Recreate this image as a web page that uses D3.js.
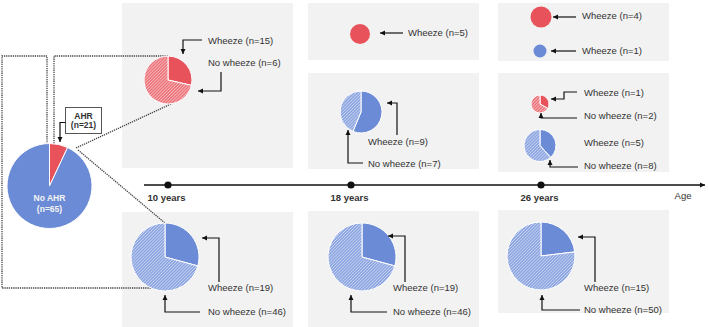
<!DOCTYPE html>
<html>
<head>
<meta charset="utf-8">
<script src="https://cdn.jsdelivr.net/npm/d3@7/dist/d3.min.js"></script>
<style>
  body { margin: 0; background: #fff; }
  text { font-family: "Liberation Sans", Arial, sans-serif; }
</style>
</head>
<body>
<div id="chart"></div>
<script>
// ---- data ----
const ages = ["10 years", "18 years", "26 years"];
const ageYears = [10, 18, 26];

const ahrLabels = ["AHR", "No AHR"];
const ahrN = [21, 65];
const ahrDrawn = [7, 93];   // share of the big pie as drawn

// one entry per small pie
const pieAge      = [10, 18, 18, 26, 26, 26, 26, 10, 18, 26];
const pieAhrNow   = [1, 1, 0, 1, 0, 1, 0, 0, 0, 0];   // 1 = AHR at that age (red)
const wheezeN     = [15, 5, 9, 4, 1, 1, 5, 19, 19, 15];
const noWheezeN   = [6, 0, 7, 0, 0, 2, 8, 46, 46, 50];
const drawnSolid  = [6, 1, 9, 1, 1, 1, 5, 19, 19, 15];
const drawnHatch  = [15, 0, 7, 0, 0, 2, 8, 46, 46, 50];

// ---- layout ----
const width = 709, height = 327;
const red = "#e8525a", blue = "#6b8bd6";
const textCol = "#333";
const fs = 9.5;

const x = d3.scaleLinear().domain(ageYears).range([168, 351, 541]);

// [dx from age column, cy, r]
const pieLayout = [
  [0, 80, 24],
  [9, 34, 10],
  [10, 112, 21],
  [0, 17, 10.5],
  [-1, 51, 6.5],
  [-1, 104, 9],
  [-1, 145.5, 16],
  [-3, 257, 34],
  [11, 257, 34],
  [0, 256, 34]
];

// panels: [age, y0, y1]
const panels = [
  [10, 3, 168], [10, 212, 327],
  [18, 3, 60], [18, 73, 169], [18, 211, 327],
  [26, 3, 61], [26, 73, 172], [26, 210, 313]
];
const panelDx = [[10, -46], [18, -43], [26, -43]];

// annotations: [age, text, text dx, text cy, arrow path (dx,y)]
const notes = [
  [10, "Wheeze (n=" + wheezeN[0] + ")", 40, 41, [[34, 40], [15, 40], [15, 54]]],
  [10, "No wheeze (n=" + noWheezeN[0] + ")", 40, 63, [[53, 72], [53, 91], [30, 91]]],
  [18, "Wheeze (n=" + wheezeN[1] + ")", 57, 33, [[52, 33], [29, 33]]],
  [18, "Wheeze (n=" + wheezeN[2] + ")", 17, 142, [[46, 135], [46, 103], [36, 103]]],
  [18, "No wheeze (n=" + noWheezeN[2] + ")", 17, 164, [[12, 163], [-3, 163], [-3, 130]]],
  [26, "Wheeze (n=" + wheezeN[3] + ")", 41, 16, [[35, 17], [12, 17]]],
  [26, "Wheeze (n=" + wheezeN[4] + ")", 41, 51, [[35, 51], [10, 51]]],
  [26, "Wheeze (n=" + wheezeN[5] + ")", 43, 93, [[36, 92], [23, 92], [23, 99], [10, 99]]],
  [26, "No wheeze (n=" + noWheezeN[5] + ")", 43, 116, [[36, 118], [0, 118], [0, 113]]],
  [26, "Wheeze (n=" + wheezeN[6] + ")", 43, 143, null],
  [26, "No wheeze (n=" + noWheezeN[6] + ")", 43, 166, [[37, 167], [9, 167], [9, 160]]],
  [10, "Wheeze (n=" + wheezeN[7] + ")", 40, 288, [[51, 282], [51, 238], [34, 238]]],
  [10, "No wheeze (n=" + noWheezeN[7] + ")", 40, 312, [[32, 312], [-3, 312], [-3, 295]]],
  [18, "Wheeze (n=" + wheezeN[8] + ")", 42, 288, [[54, 282], [54, 236], [37, 236]]],
  [18, "No wheeze (n=" + noWheezeN[8] + ")", 42, 312, [[36, 312], [0, 312], [0, 295]]],
  [26, "Wheeze (n=" + wheezeN[9] + ")", 43, 288, [[54, 282], [54, 237], [37, 237]]],
  [26, "No wheeze (n=" + noWheezeN[9] + ")", 43, 310, [[39, 310], [1, 310], [1, 295]]]
];

const svg = d3.select("#chart").append("svg")
  .attr("width", width)
  .attr("height", height);

const defs = svg.append("defs");

function addHatch(id, color) {
  const s = 2.2;
  const p = defs.append("pattern")
    .attr("id", id)
    .attr("patternUnits", "userSpaceOnUse")
    .attr("width", s)
    .attr("height", s)
    .attr("patternTransform", "rotate(45)");
  p.append("rect").attr("width", s).attr("height", s).attr("fill", color);
  p.append("line").attr("x1", 0.4).attr("y1", 0).attr("x2", 0.4).attr("y2", s)
    .attr("stroke", "#fff").attr("stroke-width", 0.8).attr("stroke-opacity", 0.55);
}
addHatch("hatch-red", "#ec7077");
addHatch("hatch-blue", "#8aa3e0");

defs.append("marker")
  .attr("id", "arrow")
  .attr("markerUnits", "userSpaceOnUse")
  .attr("markerWidth", 6)
  .attr("markerHeight", 6)
  .attr("refX", 5)
  .attr("refY", 3)
  .attr("orient", "auto")
  .append("path")
  .attr("d", "M0,0.5 L5,3 L0,5.5 z")
  .attr("fill", "#111");

// panels
svg.selectAll("rect.panel")
  .data(panels)
  .enter()
  .append("rect")
  .attr("class", "panel")
  .attr("x", d => x(d[0]) + panelDx.find(p => p[0] === d[0])[1])
  .attr("y", d => d[1])
  .attr("width", 171)
  .attr("height", d => d[2] - d[1])
  .attr("fill", "#f2f2f2");

// dotted connectors
const line = d3.line();
const dotted = [
  [[168, 56], [54, 56], [54, 144]],
  [[47, 144], [47, 56], [2, 56], [2, 288], [151, 288]],
  [[76, 148], [173, 103]],
  [[78, 150], [165, 223]]
];
svg.selectAll("path.dotted")
  .data(dotted)
  .enter()
  .append("path")
  .attr("class", "dotted")
  .attr("d", line)
  .attr("fill", "none")
  .attr("stroke", "#444")
  .attr("stroke-width", 1.3)
  .attr("stroke-dasharray", "1.3 0.9");

// timeline
svg.append("line")
  .attr("x1", 144).attr("x2", 705)
  .attr("y1", 185).attr("y2", 185)
  .attr("stroke", "#111").attr("stroke-width", 1.3)
  .attr("marker-end", "url(#arrow)");

svg.selectAll("circle.tick")
  .data(ageYears)
  .enter()
  .append("circle")
  .attr("class", "tick")
  .attr("cx", d => x(d))
  .attr("cy", 185)
  .attr("r", 3.6)
  .attr("fill", "#111");

svg.selectAll("text.age")
  .data(ages)
  .enter()
  .append("text")
  .attr("class", "age")
  .attr("x", (d, i) => x(ageYears[i]) - 1.5)
  .attr("y", 201)
  .attr("text-anchor", "middle")
  .attr("font-weight", "bold")
  .attr("font-size", fs)
  .attr("fill", textCol)
  .text(d => d);

svg.append("text")
  .attr("x", 683).attr("y", 198.5)
  .attr("text-anchor", "middle")
  .attr("font-size", fs)
  .attr("fill", textCol)
  .text("Age");

// big pie
const pie = d3.pie().sort(null);
const bigR = 42.5, bigCx = 49.5, bigCy = 186;
const big = svg.append("g").attr("transform", `translate(${bigCx},${bigCy})`);
big.selectAll("path")
  .data(pie(ahrDrawn))
  .enter()
  .append("path")
  .attr("d", d3.arc().innerRadius(0).outerRadius(bigR))
  .attr("fill", (d, i) => i === 0 ? red : blue)
  .attr("stroke", "#fff")
  .attr("stroke-width", 1);

big.append("text")
  .attr("y", 15).attr("text-anchor", "middle")
  .attr("font-size", 8.5).attr("font-weight", "bold").attr("fill", "#f4f4f4")
  .text(ahrLabels[1]);
big.append("text")
  .attr("y", 26).attr("text-anchor", "middle")
  .attr("font-size", 8.5).attr("font-weight", "bold").attr("fill", "#f4f4f4")
  .text("(n=" + ahrN[1] + ")");

// AHR box
svg.append("rect")
  .attr("x", 65.5).attr("y", 107.5).attr("width", 36).attr("height", 26)
  .attr("fill", "#fff").attr("stroke", "#555").attr("stroke-width", 1);
svg.append("text")
  .attr("x", 83.5).attr("y", 118.5).attr("text-anchor", "middle")
  .attr("font-size", 8.5).attr("font-weight", "bold").attr("fill", textCol)
  .text(ahrLabels[0]);
svg.append("text")
  .attr("x", 83.5).attr("y", 128).attr("text-anchor", "middle")
  .attr("font-size", 8.5).attr("font-weight", "bold").attr("fill", textCol)
  .text("(n=" + ahrN[0] + ")");
svg.append("path")
  .attr("d", line([[65.5, 122.5], [60, 122.5], [60, 142]]))
  .attr("fill", "none").attr("stroke", "#111").attr("stroke-width", 1.2)
  .attr("marker-end", "url(#arrow)");

// small pies
pieAge.forEach((age, i) => {
  const [dx, cy, r] = pieLayout[i];
  const g = svg.append("g").attr("transform", `translate(${x(age) + dx},${cy})`);
  const vals = [drawnSolid[i], drawnHatch[i]];
  const solid = pieAhrNow[i] ? red : blue;
  const hatch = pieAhrNow[i] ? "url(#hatch-red)" : "url(#hatch-blue)";
  g.selectAll("path")
    .data(pie(vals).filter(d => d.value > 0))
    .enter()
    .append("path")
    .attr("d", d3.arc().innerRadius(0).outerRadius(r))
    .attr("fill", d => d.index === 0 ? solid : hatch)
    .attr("stroke", vals[1] > 0 ? "#fff" : "none")
    .attr("stroke-width", 1);
});

// labels and arrows
notes.forEach(n => {
  const [age, label, tdx, ty, path] = n;
  const cx = x(age);
  svg.append("text")
    .attr("x", cx + tdx)
    .attr("y", ty + 3.4)
    .attr("font-size", fs)
    .attr("fill", textCol)
    .text(label);
  if (path) {
    svg.append("path")
      .attr("d", line(path.map(p => [cx + p[0], p[1]])))
      .attr("fill", "none")
      .attr("stroke", "#111")
      .attr("stroke-width", 1.2)
      .attr("marker-end", "url(#arrow)");
  }
});
</script>
</body>
</html>
